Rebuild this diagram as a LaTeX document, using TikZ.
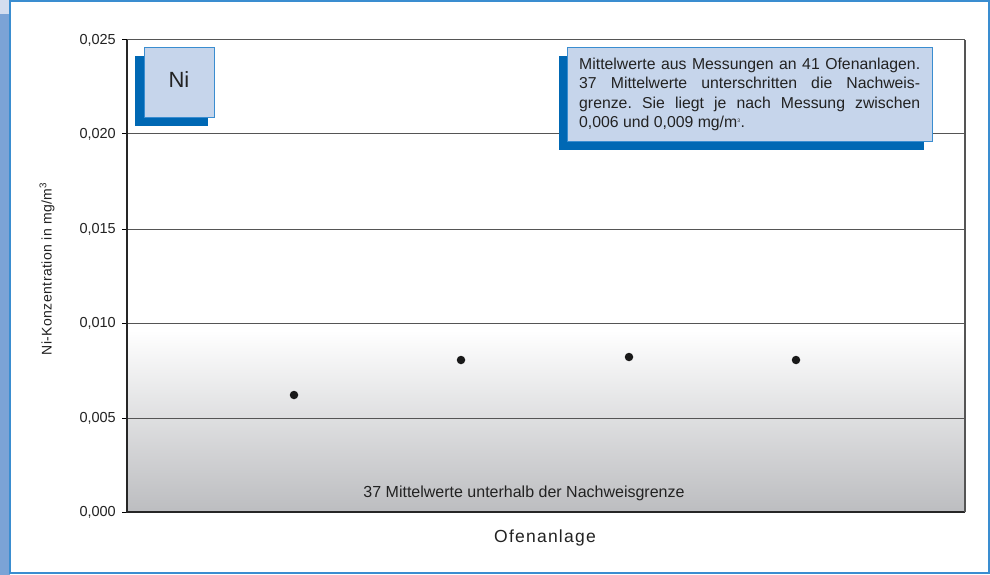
\documentclass[tikz,border=0pt]{standalone}
\usepackage{fontspec}
\setmainfont{Liberation Sans}
\definecolor{stripblue}{HTML}{7BA3D6}
\definecolor{stripLight}{HTML}{D3DDEF}
\definecolor{frameblue}{HTML}{3A8DD0}
\definecolor{boxfill}{HTML}{C6D5EB}
\definecolor{shadowblue}{HTML}{0068B4}
\definecolor{gridgray}{HTML}{555555}
\definecolor{txt}{HTML}{222222}
\definecolor{gradgray}{HTML}{BCBDC0}
\begin{document}
\begin{tikzpicture}[x=1pt,y=-1pt,
  ticklab/.style={anchor=east,font=\fontsize{14.5}{16}\selectfont,text=txt,inner sep=0pt},
  grid/.style={draw=gridgray,line width=1pt},
  frontbox/.style={fill=boxfill,draw=frameblue,line width=0.8pt},
  shadowbox/.style={fill=shadowblue},
  dot/.style={circle,fill=black!90,inner sep=0pt,minimum size=8.5pt}]
\useasboundingbox (0,0) rectangle (990,575);
% background strip and panel
\fill[stripblue] (0,0) rectangle (10,575);
\fill[stripLight] (0,0) rectangle (10,14);
\fill[white] (10,1) rectangle (989,573);
\draw[frameblue,line width=1.2pt] (10,1) rectangle (989,573);
% gradient zone
\shade[top color=white,bottom color=gradgray] (127,330) rectangle (965,512);
\fill[white] (127,323) rectangle (965,330);
% grid
\foreach \yy in {40,134,229,323,418} {\draw[grid] (127,\yy) -- (965,\yy);}
\foreach \yy in {40,134,229,323,418,512} {\draw[line width=1pt,black] (122,\yy) -- (127,\yy);}
\draw[line width=1.2pt,black!85] (127,40) -- (127,512) -- (965,512);
\draw[line width=1.2pt,gridgray] (965,40) -- (965,512);
% tick labels
\node[ticklab] (t0) at (116,512) {0,000};
\node[ticklab] (t1) at (116,418) {0,005};
\node[ticklab] (t2) at (116,323) {0,010};
\node[ticklab] (t3) at (116,229) {0,015};
\node[ticklab] (t4) at (116,134) {0,020};
\node[ticklab] (t5) at (116,40) {0,025};
% axis labels
\node[rotate=90,font=\fontsize{14}{16}\selectfont\addfontfeatures{LetterSpace=3},text=txt] (ylab) at (47,269) {Ni-Konzentration in mg/m\textsuperscript{3}};
\node[font=\fontsize{17.5}{19}\selectfont\addfontfeatures{LetterSpace=7},text=txt] (xlab) at (545,538) {Ofenanlage};
\node[font=\fontsize{16}{18}\selectfont,text=txt] (below) at (524,493) {37 Mittelwerte unterhalb der Nachweisgrenze};
% data points
\node[dot] (p1) at (294,395) {};
\node[dot] (p2) at (461,360) {};
\node[dot] (p3) at (629,357) {};
\node[dot] (p4) at (796,360) {};
% Ni box
\fill[shadowbox] (135,56) rectangle (208,126);
\draw[frontbox] (144,47) rectangle (214,117);
\node[font=\fontsize{22}{24}\selectfont,text=txt] (ni) at (179,80) {Ni};
% info box
\fill[shadowbox] (559,56) rectangle (924,150);
\draw[frontbox] (567,47) rectangle (932,141);
\node[anchor=north west,inner sep=0pt,text width=341pt,align=justify,font=\fontsize{15.8}{19.3}\selectfont\frenchspacing,text=txt] (info) at (579,58)
{Mittelwerte aus Messungen an 41 Ofenanlagen.\linebreak 37 Mittelwerte unterschritten die Nachweis-\linebreak grenze. Sie liegt je nach Messung zwischen\linebreak 0,006 und 0,009 mg/m\textsuperscript{\tiny 3}.};
\end{tikzpicture}
\end{document}
